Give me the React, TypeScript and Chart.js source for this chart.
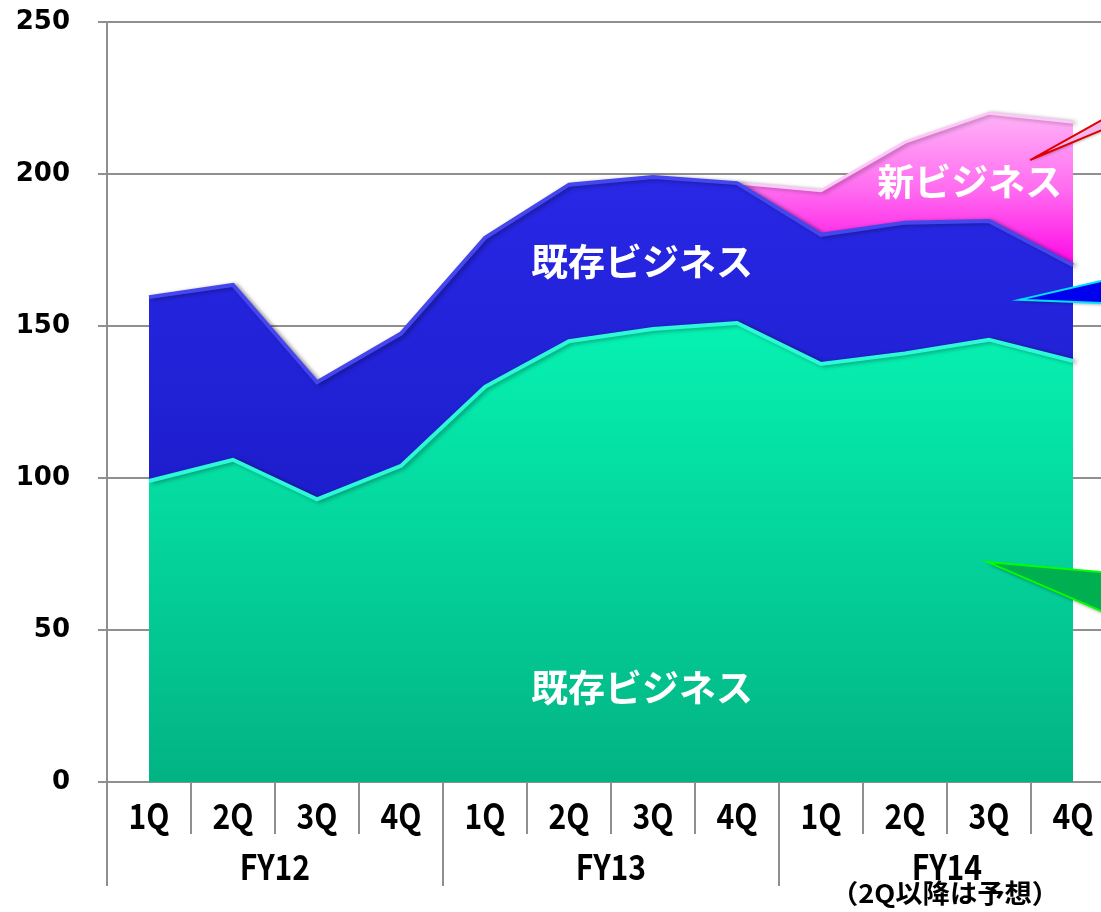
import React, { useEffect, useRef } from 'react';
import { Chart, registerables } from 'chart.js';

Chart.register(...registerables);

// ---- data ----
const quarters = ['1Q', '2Q', '3Q', '4Q', '1Q', '2Q', '3Q', '4Q', '1Q', '2Q', '3Q', '4Q'];
const fiscalYears = ['FY12', 'FY13', 'FY14'];
const fy14Note = '（2Q以降は予想）';
const existingLower = [99, 106, 93, 104, 130, 145, 149, 151, 137.5, 141, 145.5, 138.5];
const existingUpper = [60.5, 57.5, 38.5, 43.5, 49, 51.5, 50, 46, 42.5, 43, 39, 31.5];
const newBusiness: (number | null)[] = [null, null, null, null, null, null, null, 0, 14.5, 26.5, 35.5, 47];
const yMin = 0;
const yMax = 250;
const yStep = 50;

// in-chart labels (category index, value)
const areaLabels = [
  { text: '既存ビジネス', x: 5.87, y: 171 },
  { text: '既存ビジネス', x: 5.87, y: 31 },
  { text: '新ビジネス', x: 9.77, y: 197.5 },
];

// callout wedges (category index, value)
const callouts = [
  { tip: [10.49, 204.6], a: [11.6, 221.7], b: [11.6, 217.4], fill: '#F2B6EE', stroke: '#E00000' },
  { tip: [10.36, 158.6], a: [11.6, 166.5], b: [11.6, 157.3], fill: '#0000EE', stroke: '#00E0FF' },
  { tip: [9.98, 72.4], a: [11.6, 68.4], b: [11.6, 53.1], fill: '#00B050', stroke: '#00FF00' },
];

function vGrad(chart: any, stops: [number, string][], fallback: string) {
  const { ctx, chartArea, scales } = chart;
  if (!chartArea || !scales.y) return fallback;
  const y = scales.y;
  const y0 = y.getPixelForValue(stops[0][0]);
  const y1 = y.getPixelForValue(stops[stops.length - 1][0]);
  const g = ctx.createLinearGradient(0, y0, 0, y1);
  const span = stops[stops.length - 1][0] - stops[0][0];
  stops.forEach(([v, c]) => g.addColorStop((v - stops[0][0]) / span, c));
  return g;
}

function drawCondensed(ctx: CanvasRenderingContext2D, text: string, x: number, y: number, sx: number) {
  ctx.save();
  ctx.translate(x, y);
  ctx.scale(sx, 1);
  ctx.fillText(text, 0, 0);
  ctx.restore();
}

const shadowPlugin = {
  id: 'areaShadow',
  beforeDatasetsDraw(chart: any) {
    const ctx = chart.ctx;
    ctx.save();
    ctx.shadowColor = 'rgba(0,0,0,0.35)';
    ctx.shadowOffsetX = 3;
    ctx.shadowOffsetY = 1;
    ctx.shadowBlur = 4;
  },
  afterDatasetsDraw(chart: any) {
    chart.ctx.restore();
  },
};

const decorPlugin = {
  id: 'decor',
  afterDraw(chart: any) {
    const { ctx, chartArea, scales } = chart;
    const xs = scales.x;
    const ys = scales.y;
    const base = chartArea.bottom;
    ctx.save();

    // callouts
    callouts.forEach((c) => {
      ctx.save();
      ctx.shadowColor = 'rgba(0,0,0,0.3)';
      ctx.shadowOffsetY = 2;
      ctx.shadowBlur = 3;
      ctx.beginPath();
      ctx.moveTo(xs.getPixelForValue(c.tip[0]), ys.getPixelForValue(c.tip[1]));
      ctx.lineTo(xs.getPixelForValue(c.a[0]), ys.getPixelForValue(c.a[1]));
      ctx.lineTo(xs.getPixelForValue(c.b[0]), ys.getPixelForValue(c.b[1]));
      ctx.closePath();
      ctx.fillStyle = c.fill;
      ctx.fill();
      ctx.restore();
      ctx.strokeStyle = c.stroke;
      ctx.lineWidth = 2;
      ctx.lineJoin = 'miter';
      ctx.stroke();
    });

    // area labels
    ctx.fillStyle = '#ffffff';
    ctx.textAlign = 'center';
    ctx.textBaseline = 'middle';
    ctx.font = 'bold 37px "Noto Sans CJK JP"';
    areaLabels.forEach((l) => {
      ctx.fillText(l.text, xs.getPixelForValue(l.x), ys.getPixelForValue(l.y));
    });

    // category separators
    ctx.strokeStyle = '#8f8f8f';
    ctx.lineWidth = 2;
    for (let k = 0; k <= quarters.length; k++) {
      const px = Math.round(xs.getPixelForValue(k - 0.5));
      const len = k % 4 === 0 ? 104 : 52;
      ctx.beginPath();
      ctx.moveTo(px, base);
      ctx.lineTo(px, base + len);
      ctx.stroke();
    }

    // quarter and FY labels
    ctx.fillStyle = '#000000';
    ctx.font = 'bold 35px "Noto Sans CJK JP"';
    quarters.forEach((q, i) => drawCondensed(ctx, q, xs.getPixelForValue(i), base + 34, 0.86));
    fiscalYears.forEach((fy, g) => {
      const cx = (xs.getPixelForValue(g * 4 - 0.5) + xs.getPixelForValue(g * 4 + 3.5)) / 2;
      drawCondensed(ctx, fy, cx, base + 85, 0.86);
    });
    ctx.font = 'bold 26px "Noto Sans CJK JP"';
    const cx14 = (xs.getPixelForValue(7.5) + xs.getPixelForValue(11.5)) / 2;
    drawCondensed(ctx, fy14Note, cx14 - 2, base + 111, 1.05);

    ctx.restore();
  },
};

export default function App() {
  const ref = useRef<HTMLCanvasElement>(null);

  useEffect(() => {
    const canvas = ref.current;
    if (!canvas) return;
    const chart = new Chart(canvas, {
      type: 'line',
      data: {
        labels: quarters.map((q, i) => `${fiscalYears[Math.floor(i / 4)]} ${q}`),
        datasets: [
          {
            label: '既存ビジネス(下)',
            data: existingLower,
            fill: 'origin',
            tension: 0,
            pointRadius: 0,
            borderWidth: 4,
            borderColor: '#2FF8D8',
            backgroundColor: (c: any) => vGrad(c.chart, [[150, '#06F2B2'], [0, '#02B383']], '#04D8A0'),
          },
          {
            label: '既存ビジネス(上)',
            data: existingUpper,
            fill: '-1',
            tension: 0,
            pointRadius: 0,
            borderWidth: 4,
            borderColor: '#4646EE',
            backgroundColor: (c: any) => vGrad(c.chart, [[200, '#2828E6'], [90, '#1D1DCC']], '#2222DD'),
          },
          {
            label: '新ビジネス',
            data: newBusiness,
            fill: '-1',
            tension: 0,
            pointRadius: 0,
            borderWidth: 3,
            borderColor: '#FFC6F8',
            backgroundColor: (c: any) =>
              vGrad(c.chart, [[222, '#FFB8F8'], [195, '#FF6CF0'], [168, '#FF00E6']], '#FF60F0'),
          },
        ],
      },
      options: {
        responsive: false,
        animation: false,
        layout: { padding: { top: 22, right: 5, bottom: 0, left: 0 } },
        plugins: {
          legend: { display: false },
          tooltip: { enabled: false },
          filler: { propagate: false },
        },
        scales: {
          x: {
            offset: true,
            grid: { display: false },
            border: { display: false },
            ticks: { display: false },
            afterFit: (s: any) => {
              s.height = 130;
            },
          },
          y: {
            stacked: true,
            min: yMin,
            max: yMax,
            ticks: {
              stepSize: yStep,
              padding: 28,
              color: '#000000',
              font: { family: '"DejaVu Sans"', weight: 'bold', size: 26 },
            },
            grid: { color: '#8f8f8f', lineWidth: 2, tickLength: 9 },
            border: { color: '#8f8f8f', width: 2 },
            afterFit: (s: any) => {
              s.width = 107;
              s.paddingTop = 10;
              s.paddingBottom = 10;
            },
          },
        },
      },
      plugins: [shadowPlugin, decorPlugin],
    });
    return () => chart.destroy();
  }, []);

  return (
    <div
      style={{
        position: 'fixed',
        left: 0,
        top: 0,
        width: 1101,
        height: 912,
        overflow: 'hidden',
        background: '#ffffff',
      }}
    >
      <canvas ref={ref} width={1120} height={912} style={{ display: 'block', width: 1120, height: 912 }} />
    </div>
  );
}
